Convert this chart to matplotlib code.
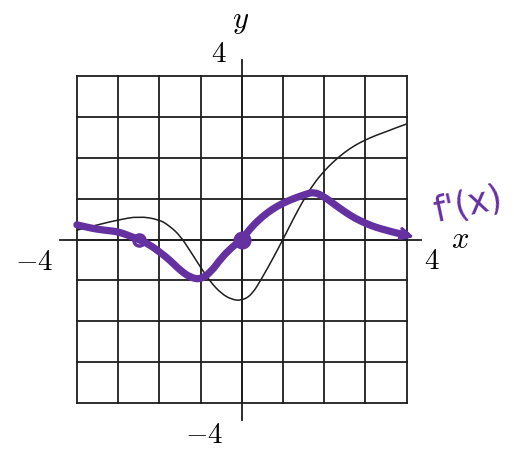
import numpy as np
import matplotlib
matplotlib.use("Agg")
import matplotlib.pyplot as plt
from matplotlib.path import Path
from matplotlib.patches import PathPatch

plt.rcParams["mathtext.fontset"] = "cm"

# f(x), the printed curve
f_x = [-4, -3.5, -3, -2.5, -2, -1.75, -1.5, -1.25, -1, -0.75, -0.5, -0.25,
       0, 0.25, 0.5, 0.75, 1, 1.25, 1.5, 1.75, 2, 2.25, 2.5, 2.75, 3, 3.25,
       3.5, 3.75, 4]
f_y = [0.23, 0.36, 0.48, 0.57, 0.49, 0.33, 0.1, -0.28, -0.68, -1.05, -1.32, -1.47,
       -1.5, -1.35, -0.93, -0.48, 0.0, 0.5, 0.97, 1.37, 1.68, 1.93, 2.14, 2.31, 2.44, 2.55,
       2.64, 2.74, 2.83]

# f'(x), the sketched derivative
d_x = [-4, -3.75, -3.5, -3.25, -3, -2.75, -2.5, -2.25, -2, -1.75, -1.5, -1.25,
       -1, -0.75, -0.5, -0.25, 0, 0.25, 0.5, 0.75, 1, 1.25, 1.5, 1.75, 2, 2.25,
       2.5, 2.75, 3, 3.25, 3.5, 3.75, 4]
d_y = [0.36, 0.3, 0.25, 0.22, 0.19, 0.1, 0.0, -0.12, -0.3, -0.5, -0.75, -0.93,
       -0.98, -0.8, -0.46, -0.2, 0.0, 0.32, 0.56, 0.75, 0.89, 1.0, 1.09, 1.17, 1.05, 0.86,
       0.68, 0.52, 0.4, 0.3, 0.23, 0.16, 0.11]

# points where f'(x) = 0
open_pt = (-2.5, 0)
closed_pt = (0, 0)

grid_ticks = list(range(-4, 5))
purple = "#6530a0"
ink = "#1e1e1e"


def smooth_path(xs, ys):
    # quadratic bezier through the midpoints, sample points act as controls
    pts = list(zip(xs, ys))
    verts = [pts[0]]
    codes = [Path.MOVETO]
    for i in range(1, len(pts) - 1):
        mid = ((pts[i][0] + pts[i + 1][0]) / 2, (pts[i][1] + pts[i + 1][1]) / 2)
        verts += [pts[i], mid]
        codes += [Path.CURVE3, Path.CURVE3]
    verts.append(pts[-1])
    codes.append(Path.LINETO)
    return Path(verts, codes)


fig = plt.figure(figsize=(5.14, 4.54), dpi=100)
ax = fig.add_axes([0, 0, 1, 1])
ax.set_xlim(-5.867, 6.609)
ax.set_ylim(-5.257, 5.870)
ax.axis("off")

# square grid
for t in grid_ticks:
    ax.plot([t, t], [-4, 4], color=ink, lw=1.3, zorder=1)
    ax.plot([-4, 4], [t, t], color=ink, lw=1.3, zorder=1)

# axes
ax.plot([-4.41, 4.34], [0, 0], color=ink, lw=1.3, zorder=2)
ax.plot([0, 0], [-4.42, 4.4], color=ink, lw=1.3, zorder=2)

ax.add_patch(PathPatch(smooth_path(f_x, f_y), fill=False, edgecolor=ink,
                       lw=1.1, zorder=3))

ax.add_patch(PathPatch(smooth_path(d_x, d_y), fill=False, edgecolor=purple,
                       lw=5.2, capstyle="round", joinstyle="round", zorder=4))
ax.annotate("", xy=(4.25, 0.04), xytext=(3.95, 0.12),
            arrowprops=dict(arrowstyle="->", color=purple, lw=2.5,
                            mutation_scale=18), zorder=4)
ax.plot(*open_pt, marker="o", ms=8, mfc="none", mec=purple, mew=2.5, zorder=5)
ax.plot(*closed_pt, marker="o", ms=12, color=purple, zorder=5)

# labels
ax.text(-0.04, 5.34, r"$y$", fontsize=22, ha="center", va="center")
ax.text(-0.55, 4.55, r"$4$", fontsize=21, ha="center", va="center")
ax.text(-5.04, -0.55, r"$-4$", fontsize=21, ha="center", va="center")
ax.text(4.62, -0.53, r"$4$", fontsize=21, ha="center", va="center")
ax.text(5.29, 0.0, r"$x$", fontsize=22, ha="center", va="center")
ax.text(-0.92, -4.79, r"$-4$", fontsize=21, ha="center", va="center")
ax.text(5.49, 0.85, "f'(x)", fontsize=25, color=purple, ha="center",
        va="center", rotation=12, family=["DejaVu Sans", "Noto Sans"])

fig.savefig("out.png", dpi=100, facecolor="white")
